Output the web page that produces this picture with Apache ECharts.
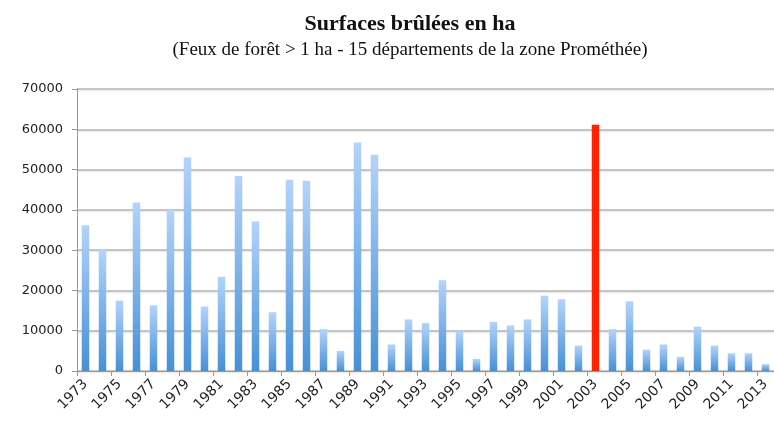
<!DOCTYPE html>
<html>
<head>
<meta charset="utf-8">
<script src="https://cdn.jsdelivr.net/npm/echarts@6/dist/echarts.min.js"></script>
<style>
  html, body { margin: 0; padding: 0; background: #fff; }
  #chart { width: 774px; height: 421px; }
</style>
</head>
<body>
<div id="chart"></div>
<script>
// années
const years = ['1973', '1974', '1975', '1976', '1977', '1978', '1979', '1980', '1981', '1982',
  '1983', '1984', '1985', '1986', '1987', '1988', '1989', '1990', '1991', '1992',
  '1993', '1994', '1995', '1996', '1997', '1998', '1999', '2000', '2001', '2002',
  '2003', '2004', '2005', '2006', '2007', '2008', '2009', '2010', '2011', '2012', '2013']
// surfaces brûlées (ha)
const surfaces = [36200, 30200, 17500, 41800, 16300, 40000, 53000, 16000, 23400, 48400,
  37100, 14600, 47500, 47200, 10400, 5000, 56700, 53700, 6600, 12800,
  11900, 22500, 9900, 3000, 12200, 11300, 12800, 18700, 17800, 6300,
  61100, 10400, 17300, 5300, 6600, 3500, 11000, 6300, 4400, 4400, 1700]
const highlightYear = '2003'

const chart = echarts.init(document.getElementById('chart'))

const blueGradient = new echarts.graphic.LinearGradient(0, 0, 0, 1, [
  { offset: 0, color: '#b3d3fb' },
  { offset: 1, color: '#4690d8' }
])

chart.setOption({
  animation: false,
  title: {
    text: 'Surfaces brûlées en ha',
    subtext: '(Feux de forêt > 1 ha - 15 départements de la zone Prométhée)',
    left: 405,
    textAlign: 'center',
    top: 8,
    itemGap: 6,
    textStyle: {
      fontFamily: 'Liberation Serif',
      fontWeight: 'bold',
      fontSize: 22,
      color: '#111'
    },
    subtextStyle: {
      fontFamily: 'Liberation Serif',
      fontSize: 19,
      color: '#111'
    }
  },
  grid: {
    left: 77,
    right: -9,
    top: 89,
    bottom: 50
  },
  xAxis: {
    type: 'category',
    data: years,
    axisLine: { lineStyle: { color: '#999' } },
    axisTick: { show: true, length: 5, lineStyle: { color: '#999' } },
    axisLabel: {
      interval: 1,
      rotate: 45,
      fontFamily: 'DejaVu Sans',
      fontSize: 14,
      color: '#222',
      margin: 11
    }
  },
  yAxis: {
    type: 'value',
    min: 0,
    max: 70000,
    interval: 10000,
    axisLine: { show: true, lineStyle: { color: '#999' } },
    axisTick: { show: true, length: 5, lineStyle: { color: '#999' } },
    axisLabel: {
      fontFamily: 'DejaVu Sans',
      fontSize: 13,
      color: '#222',
      margin: 14,
      formatter: v => String(v)
    },
    splitLine: {
      lineStyle: {
        color: '#b4b4b4',
        width: 1.5,
        shadowColor: 'rgba(0,0,0,0.15)',
        shadowBlur: 2,
        shadowOffsetY: 1
      }
    }
  },
  series: [
    {
      type: 'bar',
      barWidth: 7.5,
      data: surfaces.map((v, i) => ({
        value: v,
        itemStyle: years[i] === highlightYear ? { color: '#ff2200' } : { color: blueGradient }
      }))
    }
  ]
})
</script>
</body>
</html>
